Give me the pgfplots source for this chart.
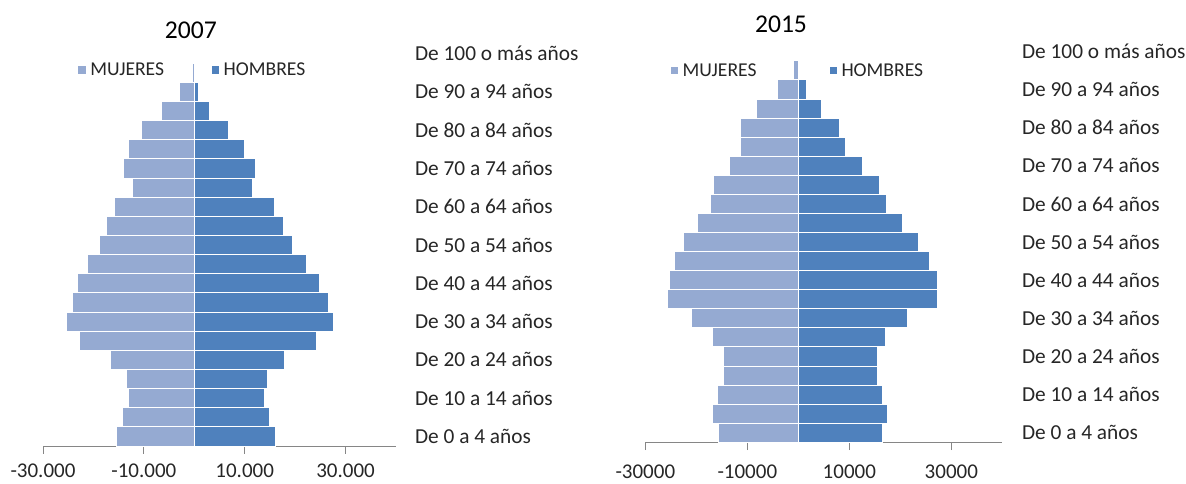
\documentclass[border=0pt]{standalone}
\usepackage{pgfplots}
\usepackage{pgfplotstable}
\pgfplotsset{compat=1.18}
\usepackage{fontspec}
\setmainfont{Carlito}
\definecolor{muj}{HTML}{95AAD2}
\definecolor{hom}{HTML}{4F81BD}
\definecolor{txt}{HTML}{262626}
\definecolor{axgray}{HTML}{868686}

\pgfplotstableread{
idx w07 m07 w15 m15
0 -15350 16020 -15580 16550
1 -14160 14890 -16740 17460
2 -13030 13960 -15830 16550
3 -13480 14430 -14720 15460
4 -16650 17800 -14720 15460
5 -22790 24200 -16740 17020
6 -25300 27560 -21030 21490
7 -24180 26630 -25620 27260
8 -23190 24850 -25230 27260
9 -21200 22350 -24260 25700
10 -18730 19440 -22510 23500
11 -17380 17600 -19780 20380
12 -15740 15820 -17130 17210
13 -12300 11460 -16670 15910
14 -13960 12180 -13550 12540
15 -13030 9880 -11350 9150
16 -10510 6710 -11350 8060
17 -6490 3070 -8240 4480
18 -2870 770 -4010 1640
19 -450 100 -900 150
20 -50 20 -100 20
}\pyr

\pgfplotsset{
  pyr/.style={
    scale only axis,
    xbar, bar shift=0pt, bar width=1,
    xmin=-30000, xmax=40000, ymin=-0.5, ymax=20.5,
    enlargelimits=false,
    scaled x ticks=false,
    axis x line*=bottom, axis y line*=right,
    x axis line style={axgray, line width=0.75pt, -},
    y axis line style={draw=none},
    xtick={-30000,-10000,10000,30000},
    xtick align=outside,
    major x tick style={axgray, line width=0.75pt},
    major tick length=5.8pt,
    major y tick style={draw=none},
    ytick={0,2,...,20},
    yticklabels={De 0 a 4 años, De 10 a 14 años, De 20 a 24 años, De 30 a 34 años, De 40 a 44 años, De 50 a 54 años, De 60 a 64 años, De 70 a 74 años, De 80 a 84 años, De 90 a 94 años, De 100 o más años},
    yticklabel style={font=\fontsize{16}{18}\selectfont, text=txt, anchor=west},
    xticklabel style={font=\fontsize{15.75}{18}\selectfont, text=txt, inner sep=1pt},
    title style={font=\fontsize{19.2}{22}\selectfont, text=black, anchor=center},
    legend columns=2,
    legend style={draw=none, fill=none, font=\fontsize{14.7}{16}\selectfont, text=txt,
      anchor=center, inner sep=0pt, outer sep=0pt,
      /tikz/every odd column/.append style={column sep=0.6pt}},
    legend image code/.code={\fill[##1] (0pt,-3.2pt) rectangle (6.4pt,3.2pt);},
    every axis plot/.append style={draw=white, line width=0.75pt},
  }
}

\begin{document}
\begin{tikzpicture}
\useasboundingbox (0,0) rectangle (889.5pt,362.25pt);
\begin{axis}[pyr,
  at={(32.25pt,27.75pt)}, anchor=south west,
  width=264.75pt, height=301.5pt,
  xticklabels={-30.000,-10.000,10.000,30.000},
  xticklabel style={yshift=-6.5pt},
  yticklabel style={xshift=5pt},
  title={2007},
  title style={at={(axis description cs:0.419,1)}, yshift=4.5pt},
  legend style={at={(axis description cs:0.424,0.935)},
    /tikz/every even column/.append style={column sep=33pt}},
]
\addplot[fill=muj] table[x=w07, y=idx] {\pyr};
\addlegendentry{MUJERES}
\addplot[fill=hom] table[x=m07, y=idx] {\pyr};
\addlegendentry{HOMBRES}
\end{axis}
\begin{axis}[pyr,
  at={(484pt,30.5pt)}, anchor=south west,
  width=267.75pt, height=300.4pt,
  xticklabels={-30000,-10000,10000,30000},
  xticklabel style={yshift=-10pt},
  yticklabel style={xshift=5.5pt},
  title={2015},
  title style={at={(axis description cs:0.38,1)}, yshift=7pt},
  legend style={at={(axis description cs:0.427,0.928)},
    /tikz/every even column/.append style={column sep=52pt}},
]
\addplot[fill=muj] table[x=w15, y=idx] {\pyr};
\addlegendentry{MUJERES}
\addplot[fill=hom] table[x=m15, y=idx] {\pyr};
\addlegendentry{HOMBRES}
\end{axis}
\end{tikzpicture}
\end{document}
